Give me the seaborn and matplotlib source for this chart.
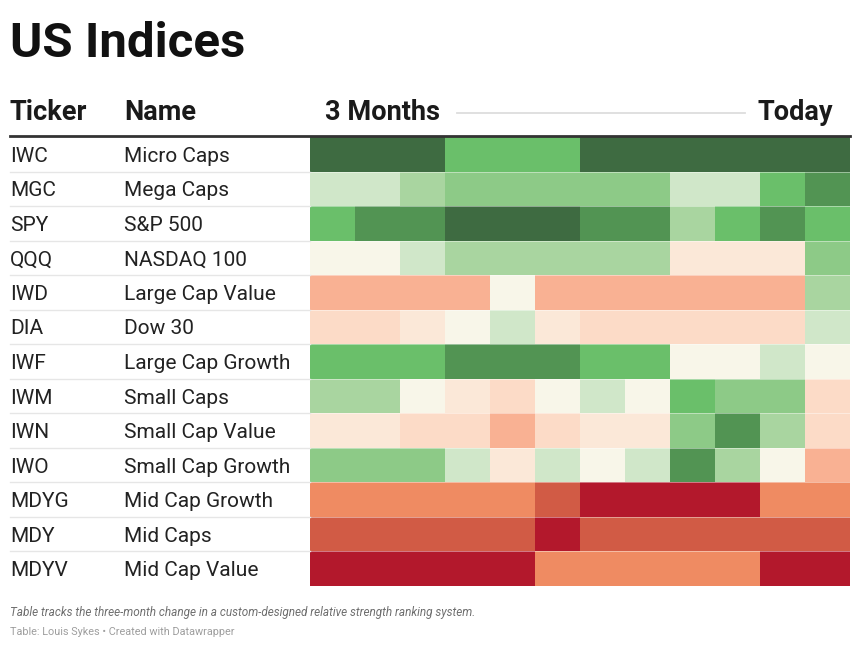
import matplotlib
matplotlib.use("Agg")
import matplotlib.pyplot as plt
from matplotlib.colors import ListedColormap
import numpy as np
import pandas as pd
import seaborn as sns

# ---- data ----
tickers = ["IWC", "MGC", "SPY", "QQQ", "IWD", "DIA", "IWF", "IWM", "IWN", "IWO", "MDYG", "MDY", "MDYV"]
names = ["Micro Caps", "Mega Caps", "S&P 500", "NASDAQ 100", "Large Cap Value", "Dow 30",
         "Large Cap Growth", "Small Caps", "Small Cap Value", "Small Cap Growth",
         "Mid Cap Growth", "Mid Caps", "Mid Cap Value"]
periods = list(range(1, 13))  # 12 steps from "3 Months" ago to "Today"

# strength level per period (1 = strongest / dark green ... 13 = weakest / dark red)
iwc  = [1, 1, 1, 3, 3, 3, 1, 1, 1, 1, 1, 1]
mgc  = [6, 6, 5, 4, 4, 4, 4, 4, 6, 6, 3, 2]
spy  = [3, 2, 2, 1, 1, 1, 2, 2, 5, 3, 2, 3]
qqq  = [7, 7, 6, 5, 5, 5, 5, 5, 8, 8, 8, 4]
iwd  = [10, 10, 10, 10, 7, 10, 10, 10, 10, 10, 10, 5]
dia  = [9, 9, 8, 7, 6, 8, 9, 9, 9, 9, 9, 6]
iwf  = [3, 3, 3, 2, 2, 2, 3, 3, 7, 7, 6, 7]
iwm  = [5, 5, 7, 8, 9, 7, 6, 7, 3, 4, 4, 9]
iwn  = [8, 8, 9, 9, 10, 9, 8, 8, 4, 2, 5, 9]
iwo  = [4, 4, 4, 6, 8, 6, 7, 6, 2, 5, 7, 10]
mdyg = [11, 11, 11, 11, 11, 12, 13, 13, 13, 13, 11, 11]
mdy  = [12, 12, 12, 12, 12, 13, 12, 12, 12, 12, 12, 12]
mdyv = [13, 13, 13, 13, 13, 11, 11, 11, 11, 11, 13, 13]

level_colors = ["#3e6b41", "#529453", "#6abf6a", "#8dca87", "#a9d5a0", "#d0e7c9", "#f8f6e9",
                "#fbe8d8", "#fcdbc7", "#f9b193", "#ef8b62", "#d15b45", "#b3182c"]

rows = [iwc, mgc, spy, qqq, iwd, dia, iwf, iwm, iwn, iwo, mdyg, mdy, mdyv]
df = pd.DataFrame(rows, index=tickers, columns=periods)

# ---- figure ----
W, H = 860, 647
fig = plt.figure(figsize=(W / 100, H / 100), dpi=100)
fig.patch.set_facecolor("white")
plt.rcParams["font.family"] = ["Roboto", "DejaVu Sans"]

def fx(x):
    return x / W

def fy(y):
    return 1 - y / H

top, bottom = 137, 586
left, right = 310, 850
row_h = (bottom - top) / len(tickers)

ax = fig.add_axes([fx(left), fy(bottom), (right - left) / W, (bottom - top) / H])
sns.heatmap(df, cmap=ListedColormap(level_colors), vmin=0.5, vmax=13.5, cbar=False,
            xticklabels=False, yticklabels=False, ax=ax)
ax.set_xlabel("")
ax.set_ylabel("")
for i in range(1, len(tickers)):
    ax.axhline(i, color="white", lw=0.6, alpha=0.5)

# title
fig.text(fx(10), fy(57), "US Indices", fontsize=35.5, fontweight="bold", color="#111111", va="baseline")

# header
hdr_base = 120
fig.text(fx(10), fy(hdr_base), "Ticker", fontsize=19.5, fontweight="bold", color="#1a1a1a", va="baseline")
fig.text(fx(124), fy(hdr_base), "Name", fontsize=19.5, fontweight="bold", color="#1a1a1a", va="baseline")
fig.text(fx(325), fy(hdr_base), "3 Months", fontsize=19.5, fontweight="bold", color="#1a1a1a", va="baseline")
fig.text(fx(833), fy(hdr_base), "Today", fontsize=19.5, fontweight="bold", color="#1a1a1a", va="baseline", ha="right")
fig.add_artist(plt.Line2D([fx(457), fx(745)], [fy(113), fy(113)], color="#dddddd", lw=1.3))
fig.add_artist(plt.Line2D([fx(10), fx(850)], [fy(136), fy(136)], color="#333333", lw=2))

# row labels
for i, (t, n) in enumerate(zip(tickers, names)):
    yc = top + (i + 0.5) * row_h
    fig.text(fx(10), fy(yc + 7.5), t, fontsize=15, color="#222222", va="baseline")
    fig.text(fx(124), fy(yc + 7.5), n, fontsize=15, color="#222222", va="baseline")
    if i > 0:
        yb = top + i * row_h
        fig.add_artist(plt.Line2D([fx(10), fx(left)], [fy(yb), fy(yb)], color="#e6e6e6", lw=1))

# footer
fig.text(fx(10), fy(616), "Table tracks the three-month change in a custom-designed relative strength ranking system.",
         fontsize=8.5, fontstyle="italic", color="#6e6e6e", va="baseline")
fig.text(fx(10), fy(635), "Table: Louis Sykes \u2022 Created with Datawrapper",
         fontsize=7.8, color="#9e9e9e", va="baseline")

fig.savefig("out.png", dpi=100, facecolor="white")
